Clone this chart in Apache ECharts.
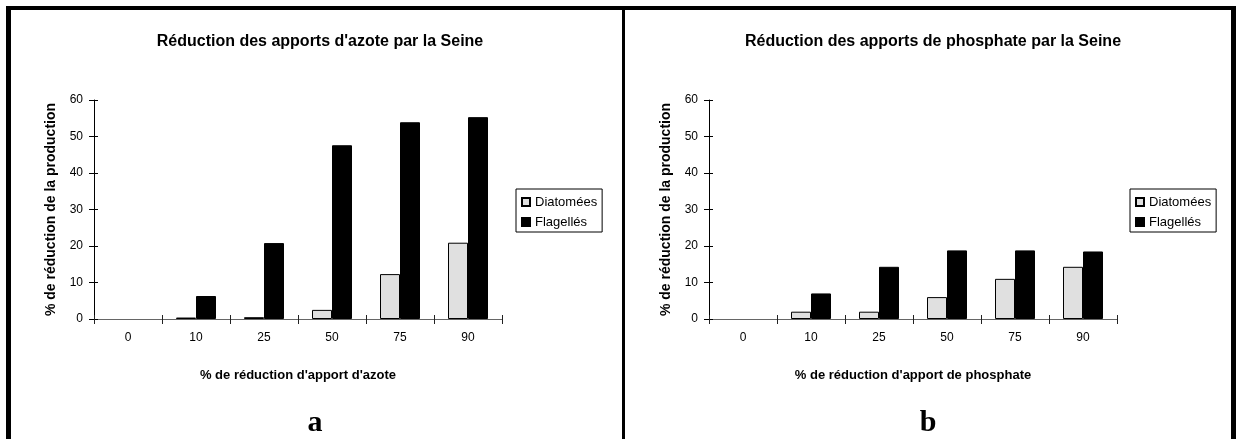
<!DOCTYPE html>
<html><head><meta charset="utf-8">
<script src="https://cdn.jsdelivr.net/npm/echarts@6/dist/echarts.min.js"></script>
<style>html,body{margin:0;padding:0;background:#fff}#c{width:1239px;height:439px}</style>
</head><body><div id="c"></div>
<script>
const categories = ['0', '10', '25', '50', '75', '90'];
const seriesNames = ['Diatomées', 'Flagellés'];
const azoteDiatomees = [0, 0.4, 0.5, 2.5, 12.3, 20.9];
const azoteFlagelles = [0, 6.3, 20.8, 47.6, 53.9, 55.3];
const phosphateDiatomees = [0, 2.0, 2.0, 6.0, 11.0, 14.3];
const phosphateFlagelles = [0, 7.0, 14.3, 18.8, 18.8, 18.5];
const yMin = 0, yMax = 60, yStep = 10;
const titles = ["Réduction des apports d'azote par la Seine", "Réduction des apports de phosphate par la Seine"];
const xTitles = ["% de réduction d'apport d'azote", "% de réduction d'apport de phosphate"];
const yTitle = "% de réduction de la production";
const panelLetters = ['a', 'b'];

const FONT = 'Arial, "Liberation Sans", Helvetica, sans-serif';
const panels = [
  { gridLeft: 94, center: 315, legendLeft: 516, diat: azoteDiatomees, flag: azoteFlagelles },
  { gridLeft: 709, center: 928, legendLeft: 1130, diat: phosphateDiatomees, flag: phosphateFlagelles }
];

// zero-height bars: no outline drawn (as in the reference)
const toItems = arr => arr.map(v => v === 0 ? { value: v, itemStyle: { borderWidth: 0, opacity: 0 } } : v);

const option = {
  animation: false,
  backgroundColor: '#fff',
  title: [], grid: [], xAxis: [], yAxis: [], series: [], legend: [], graphic: []
};

panels.forEach((p, i) => {
  option.title.push({
    text: titles[i], left: p.center, top: 29, textAlign: 'center',
    textStyle: { fontFamily: FONT, fontSize: 16, fontWeight: 'bold', color: '#000' }
  });
  option.grid.push({ left: p.gridLeft, top: 100, width: 408, height: 219, containLabel: false, outerBoundsMode: 'none' });
  option.xAxis.push({
    type: 'category', data: categories, gridIndex: i, position: 'bottom',
    axisLine: { show: true, lineStyle: { color: '#666', width: 1 } },
    axisTick: { show: true, length: 5, lineStyle: { color: '#222' } },
    axisLabel: { fontFamily: FONT, fontSize: 12, color: '#000', margin: 13 },
    splitLine: { show: false },
    name: xTitles[i], nameLocation: 'middle', nameGap: 50,
    nameTextStyle: { fontFamily: FONT, fontSize: 13, fontWeight: 'bold', color: '#000' }
  });
  option.xAxis.push({
    type: 'category', data: categories, gridIndex: i, position: 'bottom',
    axisLine: { show: false },
    axisTick: { show: true, inside: true, length: 4, lineStyle: { color: '#222' } },
    axisLabel: { show: false }, splitLine: { show: false }
  });
  option.yAxis.push({
    type: 'value', gridIndex: i, position: 'left', min: yMin, max: yMax, interval: yStep,
    axisLine: { show: true, lineStyle: { color: '#000', width: 1 } },
    axisTick: { show: true, length: 5, lineStyle: { color: '#000' } },
    axisLabel: { fontFamily: FONT, fontSize: 12, color: '#000', margin: 11 },
    splitLine: { show: false },
    name: yTitle, nameLocation: 'middle', nameRotate: 90, nameGap: 36,
    nameTextStyle: { fontFamily: FONT, fontSize: 14, fontWeight: 'bold', color: '#000' }
  });
  option.yAxis.push({
    type: 'value', gridIndex: i, position: 'left', min: yMin, max: yMax, interval: yStep,
    axisLine: { show: false },
    axisTick: { show: true, inside: true, length: 4, lineStyle: { color: '#000' } },
    axisLabel: { show: false }, splitLine: { show: false }
  });
  option.series.push({
    name: seriesNames[0], type: 'bar', xAxisIndex: i * 2, yAxisIndex: i * 2,
    data: toItems(p.diat), barWidth: 20, barGap: '0%',
    itemStyle: { color: '#e0e0e0', borderColor: '#000', borderWidth: 1 }
  });
  option.series.push({
    name: seriesNames[1], type: 'bar', xAxisIndex: i * 2, yAxisIndex: i * 2,
    data: toItems(p.flag), barWidth: 20, barGap: '0%',
    itemStyle: { color: '#000', borderColor: '#000', borderWidth: 1 }
  });
  option.legend.push({
    data: seriesNames, orient: 'vertical', left: p.legendLeft, top: 189,
    padding: [6, 5, 3, 5], itemGap: 6, itemWidth: 8, itemHeight: 8, icon: 'rect',
    borderColor: '#000', borderWidth: 1, selectedMode: false,
    textStyle: { fontFamily: FONT, fontSize: 13, color: '#000', lineHeight: 14 }
  });
  option.graphic.push({
    type: 'text', x: p.center, y: 423, silent: true,
    style: { text: panelLetters[i], fontFamily: '"Liberation Serif", "Times New Roman", serif', fontWeight: 'bold', fontSize: 30, fill: '#000', align: 'center', verticalAlign: 'middle' }
  });
});

// frame
[
  { x: 6, y: 6, width: 1230, height: 4 },
  { x: 6, y: 6, width: 5, height: 433 },
  { x: 622, y: 6, width: 3, height: 433 },
  { x: 1231, y: 6, width: 5, height: 433 }
].forEach(r => option.graphic.push({ type: 'rect', shape: r, silent: true, style: { fill: '#000' } }));

const chart = echarts.init(document.getElementById('c'), null, { renderer: 'canvas' });
chart.setOption(option);
</script>
</body></html>
